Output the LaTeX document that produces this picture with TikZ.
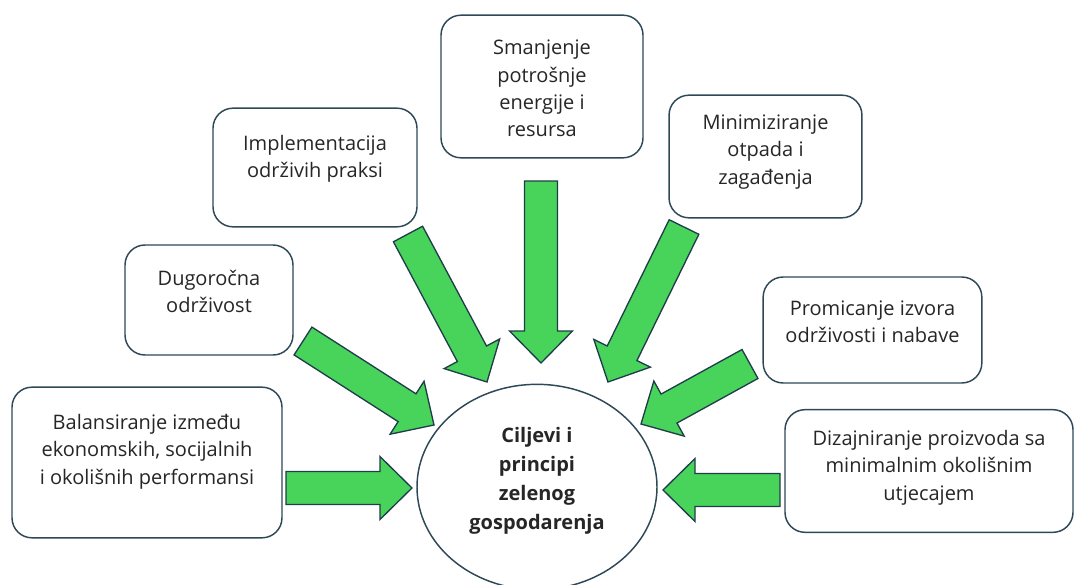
\documentclass[tikz,border=0pt]{standalone}
\usepackage{fontspec}
\setmainfont{Open Sans}
\usetikzlibrary{calc,shapes.geometric}
\definecolor{edgecol}{HTML}{2E4858}
\definecolor{arrowfill}{HTML}{48D35B}
\definecolor{arrowedge}{HTML}{1F3D4A}
\definecolor{txtcol}{HTML}{262626}
\tikzset{
  box/.style={draw=edgecol, line width=1.1pt, rounded corners=15pt, fill=white, inner sep=0pt},
  txt/.style={align=center, text=txtcol, font=\fontsize{15pt}{20.6pt}\selectfont, inner sep=0pt},
  hub/.style={draw=edgecol, line width=1.1pt, ellipse, fill=white, inner sep=0pt},
  hubtxt/.style={align=center, text=txtcol, font=\fontsize{15pt}{21.8pt}\selectfont\bfseries, inner sep=0pt},
  garrow/.style={draw=arrowedge, fill=arrowfill, line width=1pt, line join=miter},
}
\newcommand\greenarrow[2]{%
  \draw[garrow] let \p1=(#1), \p2=(#2), \n1={atan2(\y2-\y1,\x2-\x1)} in
    ($(\p1)+(\n1+90:12.4pt)$) --
    ($(\p2)+(\n1+180:24pt)+(\n1+90:12.4pt)$) --
    ($(\p2)+(\n1+180:24pt)+(\n1+90:23.6pt)$) --
    (\p2) --
    ($(\p2)+(\n1+180:24pt)+(\n1-90:23.6pt)$) --
    ($(\p2)+(\n1+180:24pt)+(\n1-90:12.4pt)$) --
    ($(\p1)+(\n1-90:12.4pt)$) -- cycle;}
\begin{document}
\begin{tikzpicture}[x=0.75pt,y=-0.75pt]
\useasboundingbox (0,0) rectangle (1075,585);
% boxes
\node[box, minimum width=151.5pt, minimum height=107pt] (sman) at (542,86.5) {};
\node[txt] (smant) at (542,88.5) {Smanjenje\\potrošnje\\energije i\\resursa};
\node[box, minimum width=153pt, minimum height=89pt] (impl) at (315,167.5) {};
\node[txt] (implt) at (315,159) {Implementacija\\održivih praksi};
\node[box, minimum width=144.7pt, minimum height=92pt] (mini) at (765.5,156.5) {};
\node[txt] (minit) at (765.5,152) {Minimiziranje\\otpada i\\zagađenja};
\node[box, minimum width=126pt, minimum height=82.5pt] (dugo) at (209,300) {};
\node[txt] (dugot) at (209,291.5) {Dugoročna\\održivost};
\node[box, minimum width=164pt, minimum height=79.5pt] (prom) at (872.5,330) {};
\node[txt] (promt) at (872.5,322) {Promicanje izvora\\održivosti i nabave};
\node[box, minimum width=202.5pt, minimum height=113pt] (bal) at (147,462.5) {};
\node[txt] (balt) at (147,451.5) {Balansiranje između\\ekonomskih, socijalnih\\i okolišnih performansi};
\node[box, minimum width=216pt, minimum height=92pt] (diz) at (929,471) {};
\node[txt] (dizt) at (929,467.5) {Dizajniranje proizvoda sa\\minimalnim okolišnim\\utjecajem};
% hub
\node[hub, minimum width=180pt, minimum height=154pt] (hub) at (537,487) {};
\node[hubtxt] (hubt) at (537,481) {Ciljevi i\\principi\\zelenog\\gospodarenja};
% arrow ends
\coordinate (a1s) at (286,488); \coordinate (a1e) at (412,488);
\coordinate (a2s) at (780,490); \coordinate (a2e) at (663,490);
\coordinate (a3s) at (541,181); \coordinate (a3e) at (541,363);
\coordinate (a4s) at (303,341); \coordinate (a4e) at (434,425);
\coordinate (a5s) at (408,234); \coordinate (a5e) at (487,382);
\coordinate (a6s) at (684,227); \coordinate (a6e) at (608,382);
\coordinate (a7s) at (750,364); \coordinate (a7e) at (641,424);
\greenarrow{a1s}{a1e}
\greenarrow{a2s}{a2e}
\greenarrow{a3s}{a3e}
\greenarrow{a4s}{a4e}
\greenarrow{a5s}{a5e}
\greenarrow{a6s}{a6e}
\greenarrow{a7s}{a7e}
\end{tikzpicture}
\end{document}
